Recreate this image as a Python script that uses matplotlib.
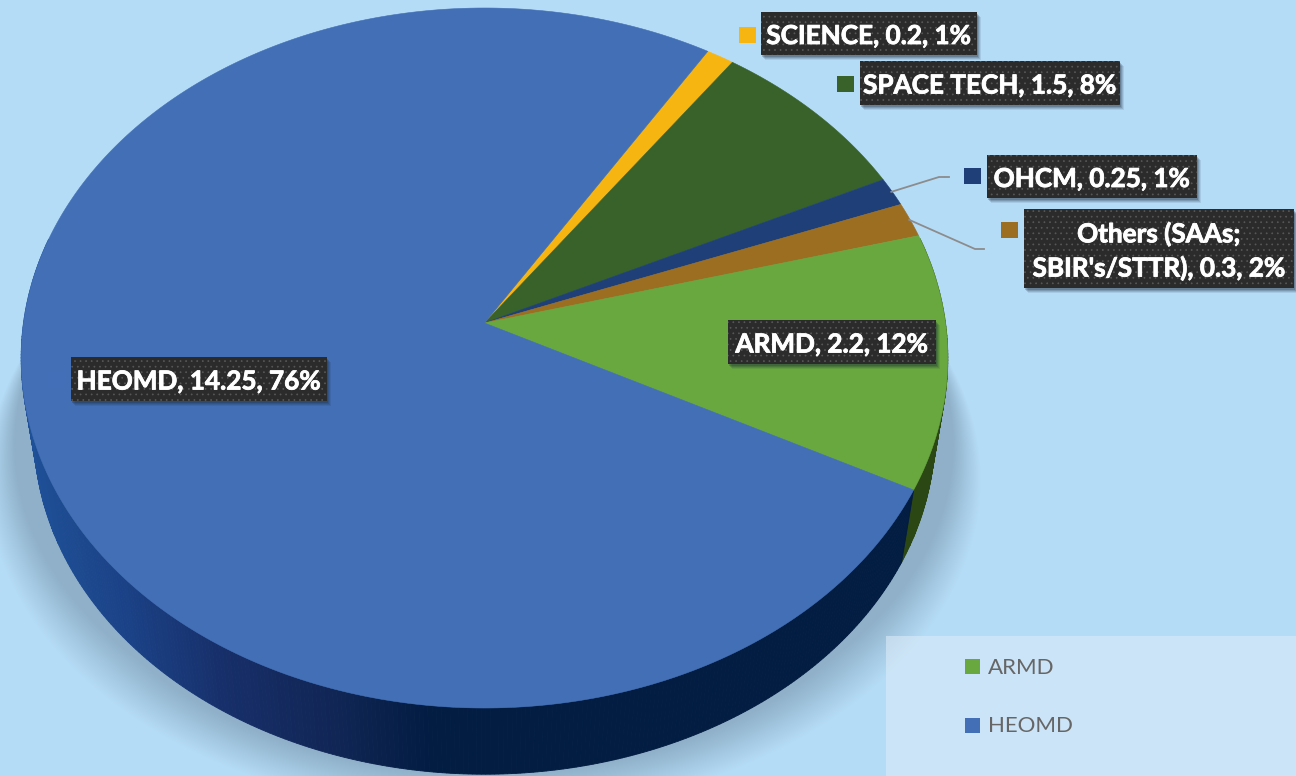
import numpy as np
import matplotlib
matplotlib.use("Agg")
import matplotlib.pyplot as plt
import matplotlib.patheffects as pe
from matplotlib.patches import Polygon, Rectangle
from matplotlib.colors import to_rgb

# Budget shares, clockwise from the top of the SCIENCE slice
categories = ["SCIENCE", "SPACE TECH", "OHCM", "Others (SAAs;\nSBIR's/STTR)", "ARMD", "HEOMD"]
values = [0.2, 1.5, 0.25, 0.3, 2.2, 14.25]
value_text = ["0.2", "1.5", "0.25", "0.3", "2.2", "14.25"]
colors = ["#F7B512", "#38622A", "#1E3F78", "#9C6E22", "#69A83F", "#426FB5"]
legend_names = ["ARMD", "HEOMD"]
legend_colors = ["#69A83F", "#426FB5"]

BG = "#B5DCF6"
W, H = 1296, 776
FONT = ["Lato", "DejaVu Sans"]
plt.rcParams["hatch.linewidth"] = 0.5

fig = plt.figure(figsize=(W / 100, H / 100), dpi=100, facecolor=BG)
ax = fig.add_axes([0, 0, 1, 1])
ax.set_xlim(0, W)
ax.set_ylim(H, 0)
ax.axis("off")

# Tilted disc: perspective projection of a unit circle onto the canvas
CX, CY, RX, RY, K = 484.5, 323.0, 461.0, 346.5, 0.1


def project(theta_deg, scale=1.0, drop=0.0):
    t = np.radians(theta_deg)
    x, y = np.cos(t), np.sin(t)
    d = 1 + K * y
    return CX + scale * RX * x / d, CY + drop - scale * RY * y / d


# Soft drop shadow under the disc, tighter at the top than at the bottom
yy, xx = np.mgrid[0:H, 0:W] + 0.5
r = np.sqrt(((xx - 484) / 497) ** 2 + ((yy - 480) / 335) ** 2)
soft = np.clip((yy - 330) / 330, 0.02, 1) * 0.11 + 0.012
a = np.clip((1.0 - r) / soft, 0, 1)
shadow = np.zeros((H, W, 4))
shadow[..., :3] = to_rgb("#8FB0C8")
shadow[..., 3] = a
ax.imshow(shadow, extent=(0, W, H, 0), zorder=1, aspect="auto", interpolation="bilinear")
ax.set_xlim(0, W)
ax.set_ylim(H, 0)

# Legend panel
ax.add_patch(Rectangle((886, 636), 410, 140, fc="#DDEBF8", ec="none", alpha=0.58, zorder=2))
ax.add_patch(Rectangle((1236, 636), 60, 140, fc="#FFFFFF", ec="none", alpha=0.015, zorder=2))

total = sum(values)
spans = [v / total * 360 for v in values]
start = 58.3
edges = [start]
for s in spans:
    edges.append(edges[-1] - s)

# Side wall of the disc
BOTTOM_SCALE, DROP = 0.972, 77.0
wall_stops_x = [20, 120, 220, 330, 430, 950]
wall_stops_c = ["#1F5198", "#1B4287", "#172F6A", "#112655", "#021C42", "#021C42"]
stops_rgb = np.array([to_rgb(c) for c in wall_stops_c])
for i in range(len(values)):
    ang = np.arange(edges[i], edges[i + 1] - 0.5, -0.5)
    ang = np.append(ang, edges[i + 1])
    for a0, a1 in zip(ang[:-1], ang[1:]):
        if np.sin(np.radians((a0 + a1) / 2)) > 0.25:
            continue
        x0, y0 = project(a0)
        x1, y1 = project(a1)
        x2, y2 = project(a1, BOTTOM_SCALE, DROP)
        x3, y3 = project(a0, BOTTOM_SCALE, DROP)
        if categories[i] == "HEOMD":
            col = [np.interp((x0 + x1) / 2, wall_stops_x, stops_rgb[:, k]) for k in range(3)]
        else:
            col = "#2A4714"
        ax.add_patch(Polygon([(x0, y0), (x1, y1), (x2, y2), (x3, y3)], closed=True,
                             fc=col, ec=col, lw=0.6, zorder=3))

# Top face slices
for i in range(len(values)):
    ang = np.linspace(edges[i], edges[i + 1], max(int(spans[i] * 2), 8))
    px, py = project(ang)
    verts = [(CX, CY)] + list(zip(px, py))
    ax.add_patch(Polygon(verts, closed=True, fc=colors[i], ec=colors[i], lw=0.4, zorder=4))

# Data label boxes (left, top, right, bottom)
label_boxes = {
    "SCIENCE": (761, 12, 977, 55),
    "SPACE TECH": (860, 61, 1120, 105),
    "OHCM": (987, 155, 1197, 198),
    "Others (SAAs;\nSBIR's/STTR)": (1024, 209, 1294, 288),
    "ARMD": (728, 320, 936, 364),
    "HEOMD": (71, 357, 327, 401),
}
label_keys = {
    "SCIENCE": (739, 27),
    "SPACE TECH": (837, 76),
    "OHCM": (964, 168),
    "Others (SAAs;\nSBIR's/STTR)": (1001, 222),
    "HEOMD": (48, 372),
}

for name, val_txt, col, v in zip(categories, value_text, colors, values):
    x0, y0, x1, y1 = label_boxes[name]
    for off, al in ((5, 0.10), (4, 0.14), (3, 0.18), (2, 0.22)):
        ax.add_patch(Rectangle((x0 + off - 1, y0 + off), x1 - x0, y1 - y0, fc="#1A2A3A", ec="none",
                               alpha=al, zorder=5))
    ax.add_patch(Rectangle((x0, y0), x1 - x0, y1 - y0, fc="#2B2B2B", ec="none", zorder=6))
    ax.add_patch(Rectangle((x0, y0), x1 - x0, y1 - y0, fc="none", ec="#585858", lw=0, hatch="...",
                           zorder=6))
    pct = round(v / total * 100)
    txt = ax.text((x0 + x1) / 2, (y0 + y1) / 2 + 2.5, f"{name}, {val_txt}, {pct}%", color="white",
                  fontsize=18.8, fontweight="bold", family=FONT, ha="center", va="center", zorder=7,
                  linespacing=1.42)
    txt.set_path_effects([pe.withStroke(linewidth=0.6, foreground="white")])
    if name in label_keys:
        kx, ky = label_keys[name]
        ax.add_patch(Rectangle((kx, ky), 17, 16, fc="#4472C4" if name == "HEOMD" else col, ec="none",
                               alpha=0.25 if name == "HEOMD" else 1, zorder=6))

# Leader lines for the two narrow slices
for a_mid, mid, end in ((edges[2] - spans[2] / 2, (939, 177), (949, 177)),
                        (edges[3] - spans[3] / 2, (975, 249), (984, 249))):
    sx, sy = project(a_mid)
    ax.plot([sx - 1, mid[0], end[0]], [sy, mid[1], end[1]], color="#8C8C8C", lw=1.3, zorder=5)

# Legend entries
for name, col, ky in zip(legend_names, legend_colors, (659, 718)):
    ax.add_patch(Rectangle((965, ky), 15, 15, fc=col, ec="none", zorder=6))
    ax.text(988, ky + 8.5, name, color="#666666", fontsize=16, family=FONT, va="center", ha="left", zorder=6)

fig.savefig("out.png", dpi=100, facecolor=BG)
